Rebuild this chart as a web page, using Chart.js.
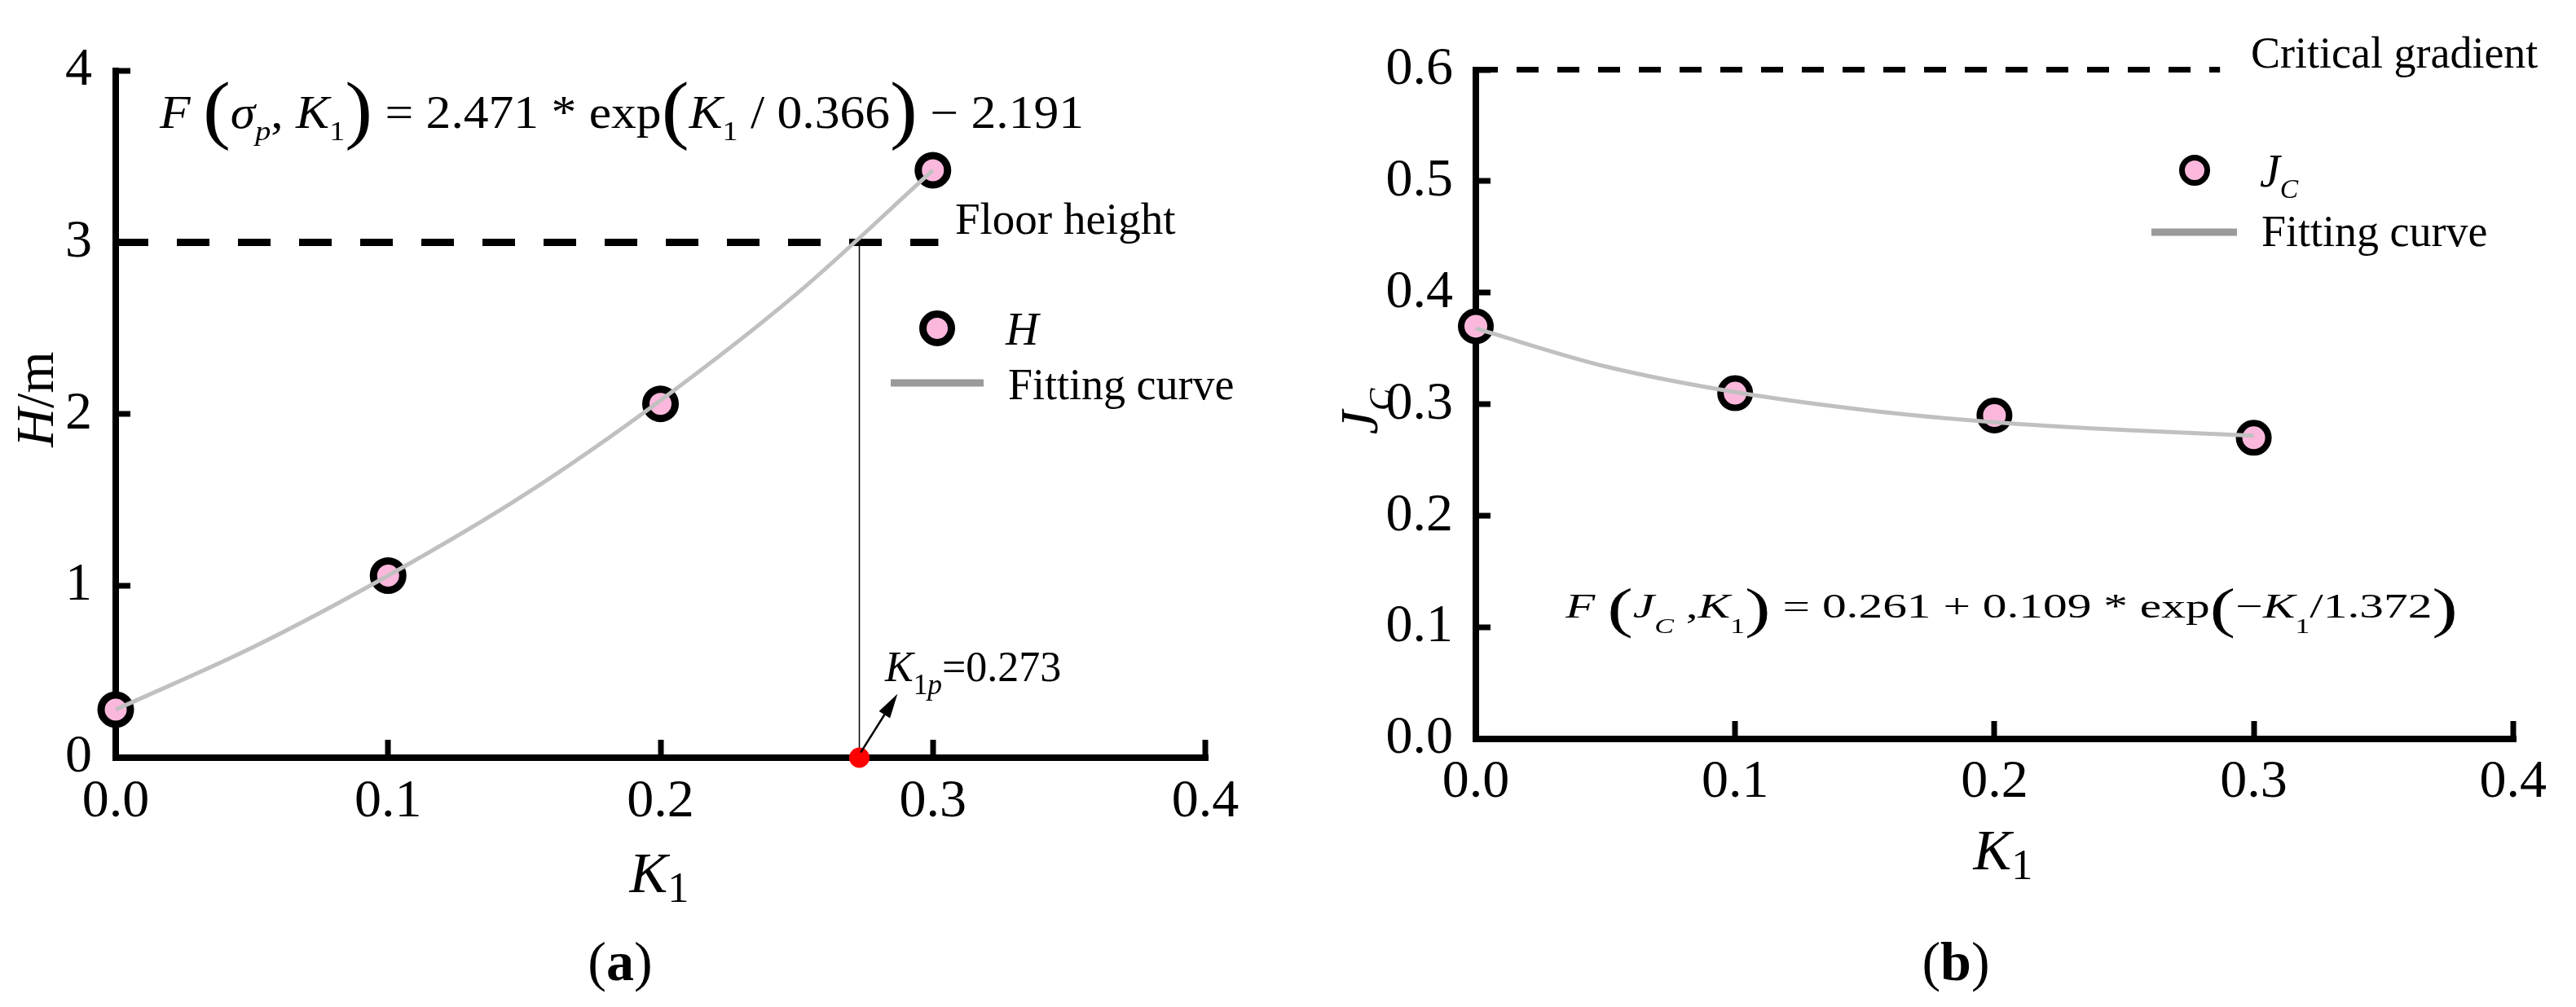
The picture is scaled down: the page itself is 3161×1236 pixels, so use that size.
<!DOCTYPE html>
<html>
<head>
<meta charset="utf-8">
<script src="https://cdn.jsdelivr.net/npm/chart.js@4.4.1/dist/chart.umd.min.js"></script>
<style>
  html, body { margin: 0; padding: 0; background: #fff; }
  #wrap { position: relative; width: 3161px; height: 1236px; overflow: hidden; }
  canvas { position: absolute; top: 0; }
  #chart-a { left: 0; }
  #chart-b { left: 1580px; }
  .probe { position: absolute; left: -9999px; font-family: "Liberation Serif"; }
</style>
</head>
<body>
<div id="wrap">
  <canvas id="chart-a" width="1580" height="1236"></canvas>
  <canvas id="chart-b" width="1581" height="1236"></canvas>
</div>
<span class="probe">0.1 <i>K</i> <b>a</b></span>
<script>
/* (a) 층고 H, (b) 한계동수경사 J_C — K1 에 대한 측정점과 적합곡선 */

// ---- 데이터 ----
const K1_POINTS = [0.0, 0.1, 0.2, 0.3];
const H_VALUES = [0.28, 1.06, 2.06, 3.42];
const JC_VALUES = [0.37, 0.31, 0.29, 0.27];

// 적합곡선
const K1_FIT = [0.0, 0.05, 0.1, 0.15, 0.2, 0.25, 0.3];
const H_FIT = [0.28, 0.64, 1.06, 1.53, 2.08, 2.70, 3.42];
const JC_FIT = [0.368, 0.334, 0.311, 0.295, 0.284, 0.277, 0.272];

const FLOOR_HEIGHT = 3;
const FLOOR_LINE_END = 0.302;
const K1P = 0.273;
const ARROW_FROM = [0.2735, 0.03];
const ARROW_TO = [0.287, 0.371];
const CRITICAL_GRADIENT = 0.6;
const CRITICAL_LINE_END = 0.287;

const X_TICKS = [0.0, 0.1, 0.2, 0.3, 0.4];
const H_TICKS = [0, 1, 2, 3, 4];
const JC_TICKS = [0.0, 0.1, 0.2, 0.3, 0.4, 0.5, 0.6];

// ---- 스타일 ----
const SERIF = '"Liberation Serif", "DejaVu Serif", "Times New Roman", Times, serif';
const PINK = "#fbb8dc";
const FIT_GRAY = "#c0c0c0";
const LEGEND_GRAY = "#9a9a9a";

Chart.defaults.font.family = SERIF;
Chart.defaults.color = "#000";

const pts = (xs, ys) => xs.map((x, i) => ({ x, y: ys[i] }));

// 이탤릭/아래첨자/큰 괄호가 섞인 수식 텍스트
// style: i 이탤릭, b 굵게, s 아래첨자, P 큰 괄호
// opt.width 를 주면 가로 배율을 맞춰 그 폭으로 그린다
function drawRich(ctx, parts, x, y, size, opt = {}) {
  const sub = opt.sub || [0.64, 0.25];
  const paren = opt.paren || [1.55, 0.2];
  const items = parts.map(([t, st = ""]) => {
    let sz = size, dy = 0;
    if (st.includes("s")) { sz = size * sub[0]; dy = size * sub[1]; }
    if (st.includes("P")) { sz = size * paren[0]; dy = size * paren[1]; }
    const f = `${st.includes("i") ? "italic " : ""}${st.includes("b") ? "bold " : ""}${sz}px ${SERIF}`;
    ctx.font = f;
    return { t, f, dy, w: ctx.measureText(t).width };
  });
  const nat = items.reduce((a, g) => a + g.w, 0);
  const hs = opt.width ? opt.width / nat : 1;
  const total = nat * hs;
  ctx.save();
  ctx.translate(opt.align === "center" ? x - total / 2 : x, y);
  ctx.scale(hs, 1);
  ctx.fillStyle = "#000";
  ctx.textAlign = "left";
  ctx.textBaseline = "alphabetic";
  let cx = 0;
  for (const g of items) {
    ctx.font = g.f;
    ctx.fillText(g.t, cx, g.dy);
    cx += g.w;
  }
  ctx.restore();
}

function legendMarker(ctx, x, y, r, bw) {
  ctx.save();
  ctx.beginPath();
  ctx.arc(x, y, r, 0, Math.PI * 2);
  ctx.fillStyle = PINK;
  ctx.fill();
  ctx.lineWidth = bw;
  ctx.strokeStyle = "#000";
  ctx.stroke();
  ctx.restore();
}

function legendLine(ctx, x1, x2, y) {
  ctx.save();
  ctx.strokeStyle = LEGEND_GRAY;
  ctx.lineWidth = 9;
  ctx.beginPath();
  ctx.moveTo(x1, y);
  ctx.lineTo(x2, y);
  ctx.stroke();
  ctx.restore();
}

function axes(yTicks, yMax, xPad, yPad, yWidth, xHeight) {
  const tickFont = { family: SERIF, size: 66 };
  return {
    x: {
      type: "linear", min: 0, max: 0.4,
      afterBuildTicks: (s) => { s.ticks = X_TICKS.map((v) => ({ value: v })); },
      afterFit: (s) => { s.height = xHeight; },
      ticks: { font: tickFont, color: "#000", padding: xPad, maxRotation: 0, autoSkip: false,
               callback: (v) => Number(v).toFixed(1) },
      grid: { drawOnChartArea: false, color: "#000", lineWidth: 8, tickLength: -22, tickWidth: 7 },
      border: { display: true, color: "#000", width: 8 },
    },
    y: {
      type: "linear", min: 0, max: yMax,
      afterBuildTicks: (s) => { s.ticks = yTicks.map((v) => ({ value: v })); },
      afterFit: (s) => { s.width = yWidth; },
      ticks: { font: tickFont, color: "#000", padding: yPad, autoSkip: false,
               callback: (v) => (yMax > 1 ? String(v) : Number(v).toFixed(1)) },
      grid: { drawOnChartArea: false, color: "#000", lineWidth: 8, tickLength: -18, tickWidth: 7 },
      border: { display: true, color: "#000", width: 8 },
    },
  };
}

const common = {
  responsive: false,
  animation: false,
  devicePixelRatio: 1,
  events: [],
  plugins: { legend: { display: false }, tooltip: { enabled: false } },
};

// ---- (a) H ----
const annotA = {
  id: "annotA",
  afterDraw(chart) {
    const { ctx, scales: { x, y } } = chart;
    // 화살표
    const x1 = x.getPixelForValue(ARROW_FROM[0]), y1 = y.getPixelForValue(ARROW_FROM[1]);
    const x2 = x.getPixelForValue(ARROW_TO[0]), y2 = y.getPixelForValue(ARROW_TO[1]);
    const ang = Math.atan2(y2 - y1, x2 - x1);
    ctx.save();
    ctx.strokeStyle = "#000";
    ctx.fillStyle = "#000";
    ctx.lineWidth = 2.5;
    ctx.beginPath();
    ctx.moveTo(x1, y1);
    ctx.lineTo(x2 - 20 * Math.cos(ang), y2 - 20 * Math.sin(ang));
    ctx.stroke();
    ctx.translate(x2, y2);
    ctx.rotate(ang);
    ctx.beginPath();
    ctx.moveTo(0, 0);
    ctx.lineTo(-30, -8);
    ctx.lineTo(-30, 8);
    ctx.closePath();
    ctx.fill();
    ctx.restore();

    drawRich(ctx, [["F", "i"], [" "], ["(", "P"], ["σ", "i"], ["p", "is"], [", "], ["K", "i"], ["1", "s"],
      [")", "P"], [" = 2.471 * exp"], ["(", "P"], ["K", "i"], ["1", "s"], [" / 0.366"], [")", "P"],
      [" − 2.191"]], 196, 157, 56, { width: 1134, sub: [0.62, 0.27], paren: [1.65, 0.14] });

    drawRich(ctx, [["Floor height"]], 1172, 287, 55);

    legendMarker(ctx, 1150, 403, 17.5, 9);
    drawRich(ctx, [["H", "i"]], 1234, 423, 56);
    legendLine(ctx, 1093, 1207, 470);
    drawRich(ctx, [["Fitting curve"]], 1237, 490, 54);

    drawRich(ctx, [["K", "i"], ["1", "s"], ["p", "is"], ["=0.273"]], 1086, 836, 52,
      { sub: [0.68, 0.3] });

    drawRich(ctx, [["K", "i"], ["1", "s"]], 809, 1095, 70, { align: "center", sub: [0.75, 0.17] });
    drawRich(ctx, [["("], ["a", "b"], [")"]], 761, 1203, 68, { align: "center" });

    ctx.save();
    ctx.translate(65, 490);
    ctx.rotate(-Math.PI / 2);
    drawRich(ctx, [["H", "i"], ["/m"]], 0, 0, 66, { align: "center" });
    ctx.restore();
  },
};

// ---- (b) J_C ----
const annotB = {
  id: "annotB",
  afterDraw(chart) {
    const { ctx } = chart;
    drawRich(ctx, [["Critical gradient"]], 1182, 83, 54);

    legendMarker(ctx, 1113, 209, 15.5, 7);
    drawRich(ctx, [["J", "i"], ["C", "is"]], 1193, 229, 56, { sub: [0.6, 0.25] });
    legendLine(ctx, 1060, 1165, 285);
    drawRich(ctx, [["Fitting curve"]], 1195, 302, 54);

    drawRich(ctx, [["F", "i"], [" "], ["(", "P"], ["J", "i"], ["C", "is"], [" ,"], ["K", "i"], ["1", "s"],
      [")", "P"], [" = 0.261 + 0.109 * exp"], ["(", "P"], ["−"], ["K", "i"], ["1", "s"],
      ["/1.372"], [")", "P"]], 341, 758, 42, { width: 1095, sub: [0.6, 0.45], paren: [1.6, 0.26] });

    drawRich(ctx, [["K", "i"], ["1", "s"]], 878, 1067, 70, { align: "center", sub: [0.75, 0.17] });
    drawRich(ctx, [["("], ["b", "b"], [")"]], 820, 1203, 68, { align: "center" });

    ctx.save();
    ctx.translate(110, 505);
    ctx.rotate(-Math.PI / 2);
    drawRich(ctx, [["J", "i"], ["C", "is"]], 0, 0, 66, { align: "center", sub: [0.62, 0.25] });
    ctx.restore();
  },
};

function build() {
  new Chart(document.getElementById("chart-a"), {
    type: "scatter",
    data: {
      datasets: [
        { data: [{ x: K1P, y: 0 }], pointRadius: 12.5, pointBackgroundColor: "#ff0000",
          pointBorderWidth: 0, clip: false },
        { data: pts(K1_FIT, H_FIT), showLine: true, borderColor: FIT_GRAY, borderWidth: 5,
          pointRadius: 0, cubicInterpolationMode: "monotone", clip: false },
        { data: pts(K1_POINTS, H_VALUES), pointRadius: 18, pointBorderWidth: 9,
          pointBorderColor: "#000", pointBackgroundColor: PINK, clip: false },
        { data: [{ x: 0, y: FLOOR_HEIGHT }, { x: FLOOR_LINE_END, y: FLOOR_HEIGHT }], showLine: true,
          borderColor: "#000", borderWidth: 9, borderDash: [40, 35], pointRadius: 0, clip: false },
        { data: [{ x: K1P, y: 0 }, { x: K1P, y: FLOOR_HEIGHT }], showLine: true,
          borderColor: "#000", borderWidth: 1.5, pointRadius: 0, clip: false },
      ],
    },
    options: {
      ...common,
      layout: { padding: { top: 46, right: 101, left: 0, bottom: 0 } },
      scales: axes(H_TICKS, 4, 37, 47, 142, 306),
    },
    plugins: [annotA],
  });

  new Chart(document.getElementById("chart-b"), {
    type: "scatter",
    data: {
      datasets: [
        { data: pts(K1_FIT, JC_FIT), showLine: true, borderColor: FIT_GRAY, borderWidth: 5,
          pointRadius: 0, cubicInterpolationMode: "monotone", clip: false },
        { data: pts(K1_POINTS, JC_VALUES), pointRadius: 18, pointBorderWidth: 8,
          pointBorderColor: "#000", pointBackgroundColor: PINK, clip: false },
        { data: [{ x: 0, y: CRITICAL_GRADIENT }, { x: CRITICAL_LINE_END, y: CRITICAL_GRADIENT }],
          showLine: true, borderColor: "#000", borderWidth: 7, borderDash: [27, 23],
          pointRadius: 0, clip: false },
      ],
    },
    options: {
      ...common,
      layout: { padding: { top: 65, right: 56, left: 0, bottom: 0 } },
      scales: axes(JC_TICKS, 0.6, 36, 46, 231, 329),
    },
    plugins: [annotB],
  });
}

// 로컬 세리프 글꼴을 먼저 올린 뒤 그린다
const faces = ["66px", "italic 66px", "bold 66px"].map((f) => `${f} "Liberation Serif"`);
Promise.all(faces.map((f) => document.fonts.load(f)))
  .catch(() => null)
  .then(() => document.fonts.ready)
  .then(build, build);
</script>
</body>
</html>
